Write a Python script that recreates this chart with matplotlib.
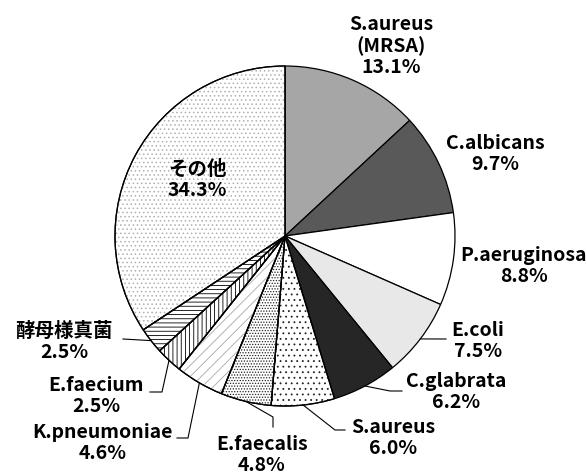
import numpy as np
import matplotlib.pyplot as plt
from matplotlib.patches import Wedge

plt.rcParams['font.family'] = ['Noto Sans CJK JP', 'DejaVu Sans']
plt.rcParams['hatch.linewidth'] = 0.6

# data, clockwise from 12 o'clock
names = ['S.aureus\n(MRSA)', 'C.albicans', 'P.aeruginosa', 'E.coli', 'C.glabrata',
         'S.aureus', 'E.faecalis', 'K.pneumoniae', 'E.faecium', '酵母様真菌', 'その他']
values = [13.1, 9.7, 8.8, 7.5, 6.2, 6.0, 4.8, 4.6, 2.5, 2.5, 34.3]

colors = ['#a6a6a6', '#595959', '#ffffff', '#e8e8e8', '#262626',
          '#ffffff', '#ffffff', '#ffffff', '#ffffff', '#ffffff', '#ffffff']
hatches = [None, None, None, None, None, '...', '......', '///', '||||', '----', '....']
hatch_cols = [None, None, None, None, None, '#222222', '#222222', '#a8a8a8',
              '#000000', '#000000', '#b0b0b0']

W, H = 586, 475
cx, cy, R = 285, H - 236, 170

fig = plt.figure(figsize=(W / 100, H / 100), dpi=100)
ax = fig.add_axes([0, 0, 1, 1])

wedges, _ = ax.pie(values, startangle=90, counterclock=False, center=(cx, cy),
                   radius=R, colors=colors,
                   wedgeprops=dict(edgecolor='black', linewidth=0.9))

# hatched overlays
for w, h, hc in zip(wedges, hatches, hatch_cols):
    if h is None:
        continue
    ov = Wedge(w.center, w.r, w.theta1, w.theta2, facecolor='none',
               edgecolor=hc, linewidth=0, hatch=h)
    ax.add_patch(ov)
    edge = Wedge(w.center, w.r, w.theta1, w.theta2, facecolor='none',
                 edgecolor='black', linewidth=0.9)
    ax.add_patch(edge)


def edge_pt(w):
    a = np.deg2rad((w.theta1 + w.theta2) / 2)
    return w.center[0] + w.r * np.cos(a), w.center[1] + w.r * np.sin(a)


fs = 14
tk = dict(fontsize=fs, fontweight='bold', ha='center', va='center', linespacing=1.15)

# label positions (screen px, y from top)
label_pos = [(391, 46), (495, 154), (524, 266), (478, 341), (456, 392),
             (393, 438), (262, 455), (103, 443), (96, 396), (64, 342), (197, 180)]
# leader line bends (after the wedge edge point)
leaders = {
    3: [(446, 339)],
    4: [(390, 391), (402, 391)],
    5: [(335, 430), (345, 430)],
    6: [(273, 417), (273, 427)],
    7: [(188, 438), (177, 438)],
    8: [(162, 392), (150, 392)],
    9: [(123, 339)],
}

for i, (w, name, v) in enumerate(zip(wedges, names, values)):
    x, y = label_pos[i]
    ax.text(x, H - y, f'{name}\n{v:.1f}%', **tk)
    if i in leaders:
        ex, ey = edge_pt(w)
        xs = [ex] + [p[0] for p in leaders[i]]
        ys = [ey] + [H - p[1] for p in leaders[i]]
        ax.plot(xs, ys, color='black', linewidth=0.8)

ax.set_xlim(0, W)
ax.set_ylim(0, H)
ax.set_aspect('equal')
ax.axis('off')

fig.savefig('out.png', dpi=100)
